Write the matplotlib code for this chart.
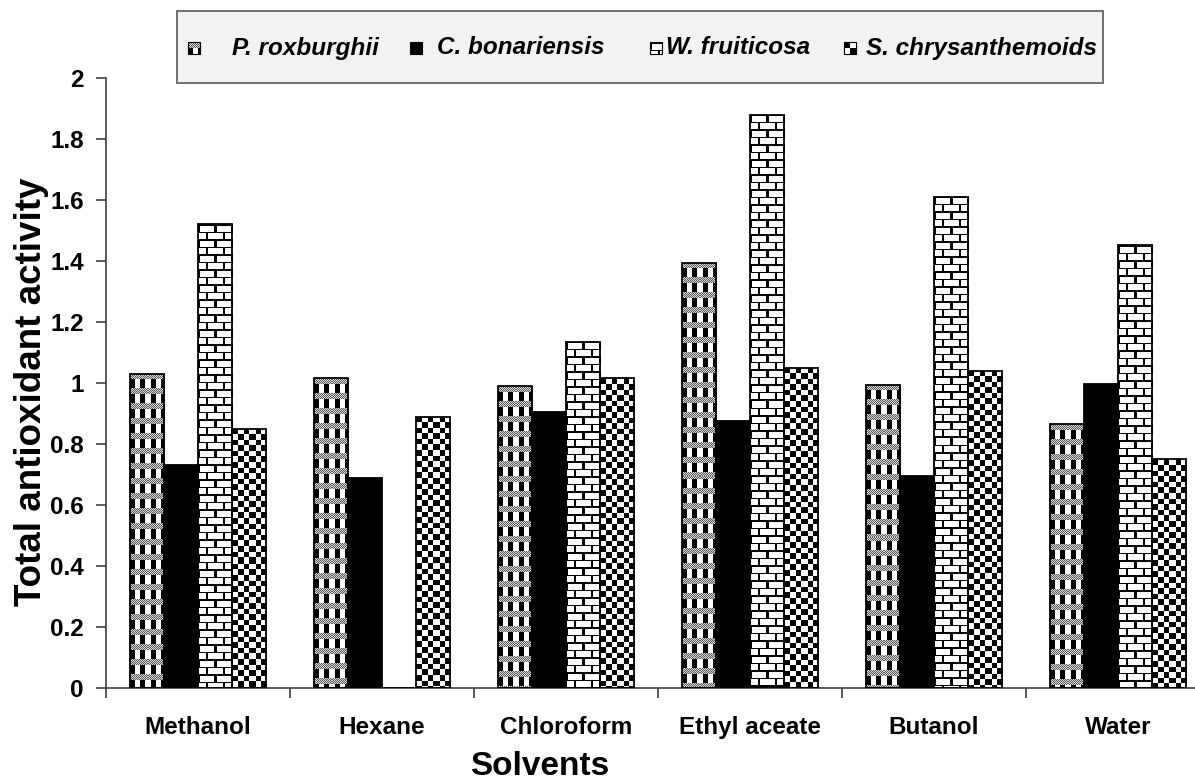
import numpy as np
import matplotlib
matplotlib.use("Agg")
import matplotlib.pyplot as plt
from matplotlib.patches import Rectangle

# Data
solvents = ["Methanol", "Hexane", "Chloroform", "Ethyl aceate", "Butanol", "Water"]
species = ["P. roxburghii", "C. bonariensis", "W. fruiticosa", "S. chrysanthemoids"]
p_roxburghii = [1.03, 1.015, 0.99, 1.395, 0.995, 0.865]
c_bonariensis = [0.73, 0.69, 0.905, 0.875, 0.695, 0.998]
w_fruiticosa = [1.52, 0.0, 1.135, 1.88, 1.61, 1.452]
s_chrysanthemoids = [0.85, 0.89, 1.015, 1.05, 1.04, 0.75]
y_ticks = [0, 0.2, 0.4, 0.6, 0.8, 1, 1.2, 1.4, 1.6, 1.8, 2]
y_tick_labels = ["0", "0.2", "0.4", "0.6", "0.8", "1", "1.2", "1.4", "1.6", "1.8", "2"]

patterns = ["plaid", "solid", "brick", "check"]

FONT = "Liberation Sans"
W, H = 1195, 782


def texture(kind, w, h):
    """
    Build a small grey-level fill pattern (0 = black, 1 = white) of w x h pixels.
    """
    yy, xx = np.mgrid[0:h, 0:w]
    if kind == "plaid":
        img = np.where((xx % 10) < 5, 0.0, 1.0)
        dots = np.where((xx + yy) % 2 == 0, 0.35, 0.85)
        img = np.where((yy % 15) < 6, dots, img)
    elif kind == "brick":
        img = np.ones((h, w))
        row = (yy // 7.5).astype(int)
        img[(yy % 7.5) < 1.5] = 0.0
        shift = (row % 2) * 8
        img[((xx + shift) % 16) < 2] = 0.0
    elif kind == "check":
        cell = ((xx // 5.6).astype(int) + (yy // 5.6).astype(int)) % 2
        img = np.where(cell == 0, 0.0, 1.0)
    else:
        img = np.zeros((h, w))
    return img


def draw_bars(ax, series):
    """
    Draw grouped bars, then fill each bar with its pattern image.
    """
    n = len(series)
    width = 0.185
    x = np.arange(len(solvents))
    for i, (values, kind) in enumerate(zip(series, patterns)):
        pos = x + (i - (n - 1) / 2) * width
        face = "black" if kind == "solid" else "none"
        bars = ax.bar(pos, values, width, facecolor=face, edgecolor="black",
                      linewidth=1.3, zorder=3)
        if kind == "solid":
            continue
        for bar, v in zip(bars, values):
            if v <= 0:
                continue
            x0 = bar.get_x()
            x1 = x0 + bar.get_width()
            p0 = ax.transData.transform((x0, 0))
            p1 = ax.transData.transform((x1, v))
            w = max(int(round(p1[0] - p0[0])), 1)
            h = max(int(round(p1[1] - p0[1])), 1)
            im = ax.imshow(texture(kind, w, h), cmap="gray", vmin=0, vmax=1,
                           extent=(x0, x1, 0, v), origin="upper",
                           aspect="auto", interpolation="nearest", zorder=2)
            im.set_clip_path(bar)


def draw_legend(fig):
    """
    Legend box drawn in pixel coordinates on top of the figure.
    """
    lax = fig.add_axes([0, 0, 1, 1], zorder=10)
    lax.set_xlim(0, W)
    lax.set_ylim(H, 0)
    lax.axis("off")
    lax.patch.set_visible(False)
    lax.add_patch(Rectangle((177, 11), 926, 72, facecolor="#f2f2f2",
                            edgecolor="#707070", linewidth=1.4, zorder=1))
    square_x = [188, 410, 650, 844]
    text_x = [232, 437, 666, 866]
    for sx, tx, name, kind in zip(square_x, text_x, species, patterns):
        lax.imshow(texture(kind, 12, 12), cmap="gray", vmin=0, vmax=1,
                   extent=(sx, sx + 12, 54, 42), origin="upper",
                   interpolation="nearest", aspect="auto", zorder=2)
        lax.add_patch(Rectangle((sx, 42), 12, 12, facecolor="none",
                                edgecolor="black", linewidth=0.8, zorder=3))
        lax.text(tx, 48, name, fontsize=17.5, fontweight="bold", fontstyle="italic",
                 family=FONT, va="center", ha="left", zorder=3)
    lax.set_xlim(0, W)
    lax.set_ylim(H, 0)


if __name__ == "__main__":
    fig = plt.figure(figsize=(W / 100, H / 100), dpi=100)
    ax = fig.add_axes([106 / W, 1 - 688 / H, (1210 - 106) / W, (688 - 78) / H])
    ax.set_xlim(-0.5, len(solvents) - 0.5)
    ax.set_ylim(0, 2)

    draw_bars(ax, [p_roxburghii, c_bonariensis, w_fruiticosa, s_chrysanthemoids])
    ax.set_xlim(-0.5, len(solvents) - 0.5)
    ax.set_ylim(0, 2)

    for side in ["top", "right"]:
        ax.spines[side].set_visible(False)
    for side in ["left", "bottom"]:
        ax.spines[side].set_color("#404040")
        ax.spines[side].set_linewidth(1.2)

    ax.set_xticks(np.arange(len(solvents)))
    ax.set_xticklabels(solvents, fontsize=17.5, fontweight="bold", family=FONT)
    ax.set_xticks(np.arange(len(solvents) + 1) - 0.5, minor=True)
    ax.tick_params(axis="x", which="major", length=0, pad=20)
    ax.tick_params(axis="x", which="minor", length=7, direction="out",
                   color="#404040", width=1.2)
    ax.set_yticks(y_ticks)
    ax.set_yticklabels(y_tick_labels, fontsize=17.5, fontweight="bold", family=FONT)
    ax.tick_params(axis="y", length=7, direction="out", color="#404040",
                   width=1.2, pad=9)

    ax.set_ylabel("Total antioxidant activity", fontsize=26.5, fontweight="bold",
                  family=FONT)
    ax.yaxis.set_label_coords(-0.052, 0.485)
    ax.set_xlabel("Solvents", fontsize=24, fontweight="bold", family=FONT)
    ax.xaxis.label.set_va("bottom")
    ax.xaxis.set_label_coords(0.393, -0.154)

    draw_legend(fig)
    fig.savefig("out.png", dpi=100)
